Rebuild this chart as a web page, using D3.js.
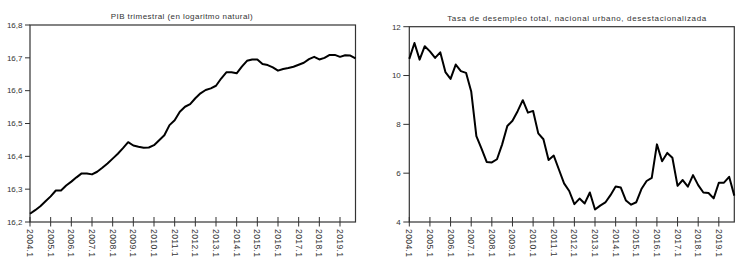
<!DOCTYPE html>
<html>
<head>
<meta charset="utf-8">
<script src="https://cdn.jsdelivr.net/npm/d3@7"></script>
<style>
  html, body { margin: 0; padding: 0; background: #fff; }
  svg { display: block; font-family: "Liberation Sans", Arial, sans-serif; }
</style>
</head>
<body>
<svg id="chart" width="751" height="272"></svg>
<script>
// quarters 2004.1 .. 2019.4
var quarters = [];
for (var yr = 2004; yr <= 2019; yr++) {
  for (var q = 1; q <= 4; q++) quarters.push(yr + "." + q);
}
var xTickLabels = ["2004.1", "2005.1", "2006.1", "2007.1", "2008.1", "2009.1", "2010.1", "2011.1",
  "2012.1", "2013.1", "2014.1", "2015.1", "2016.1", "2017.1", "2018.1", "2019.1"];

// PIB trimestral (log natural)
var pib = [16.225, 16.236, 16.248, 16.263, 16.278, 16.296, 16.296, 16.311, 16.323, 16.336,
  16.348, 16.348, 16.345, 16.353, 16.365, 16.378, 16.393, 16.408, 16.425, 16.443,
  16.433, 16.429, 16.426, 16.427, 16.434, 16.449, 16.464, 16.495, 16.510, 16.536,
  16.551, 16.559, 16.577, 16.592, 16.602, 16.607, 16.615, 16.637, 16.656, 16.656,
  16.653, 16.673, 16.691, 16.695, 16.695, 16.681, 16.678, 16.671, 16.661, 16.666,
  16.669, 16.673, 16.679, 16.685, 16.696, 16.703, 16.695, 16.700, 16.709, 16.709,
  16.703, 16.708, 16.707, 16.698];
var pibTicks = [16.2, 16.3, 16.4, 16.5, 16.6, 16.7, 16.8];

// tasa de desempleo desestacionalizada
var desempleo = [10.68, 11.33, 10.65, 11.20, 10.99, 10.72, 10.95, 10.14, 9.86, 10.45,
  10.18, 10.11, 9.35, 7.52, 7.01, 6.46, 6.44, 6.57, 7.18, 7.93,
  8.15, 8.54, 8.99, 8.48, 8.55, 7.63, 7.39, 6.54, 6.72, 6.15,
  5.58, 5.27, 4.73, 4.96, 4.76, 5.21, 4.51, 4.67, 4.80, 5.10,
  5.45, 5.41, 4.88, 4.71, 4.81, 5.35, 5.68, 5.81, 7.18, 6.49,
  6.83, 6.63, 5.48, 5.72, 5.45, 5.92, 5.51, 5.21, 5.19, 4.97,
  5.61, 5.61, 5.85, 5.08];
var desempleoTicks = [4, 6, 8, 10, 12];

var esLocale = d3.formatLocale({ decimal: ",", thousands: ".", grouping: [3], currency: ["", ""] });

var svg = d3.select("#chart");

function drawPanel(opt) {
  var g = svg.append("g");
  var x = d3.scalePoint().domain(quarters).range([opt.left, opt.right]);
  var y = d3.scaleLinear().domain(opt.domain).range([opt.bottom, opt.top]);

  // title
  g.append("text")
    .attr("x", opt.titleX)
    .attr("y", opt.titleY)
    .attr("text-anchor", "middle")
    .attr("font-size", 8)
    .attr("textLength", opt.titleLen)
    .attr("lengthAdjust", "spacing")
    .attr("fill", "#333")
    .text(opt.title);

  // frame
  g.append("rect")
    .attr("x", opt.left)
    .attr("y", opt.top)
    .attr("width", opt.right - opt.left)
    .attr("height", opt.bottom - opt.top)
    .attr("fill", "none")
    .attr("stroke", "#333")
    .attr("stroke-width", 1.2);

  // y ticks + labels
  var yt = g.selectAll(".yt").data(opt.yTicks).enter().append("g")
    .attr("transform", function (d) { return "translate(0," + y(d) + ")"; });
  yt.append("line")
    .attr("x1", opt.left - opt.tickLen).attr("x2", opt.left)
    .attr("stroke", "#333").attr("stroke-width", 1);
  yt.append("text")
    .attr("x", opt.left - opt.tickLen - 2.5)
    .attr("dy", "0.35em")
    .attr("text-anchor", "end")
    .attr("font-size", 8)
    .attr("fill", "#333")
    .text(opt.yFormat);

  // x ticks cross the axis
  var xt = g.selectAll(".xt").data(xTickLabels).enter().append("g")
    .attr("transform", function (d) { return "translate(" + x(d) + "," + opt.bottom + ")"; });
  xt.append("line")
    .attr("y1", -5).attr("y2", 4.5)
    .attr("stroke", "#333").attr("stroke-width", 1);
  xt.append("text")
    .attr("transform", "translate(0,7) rotate(90)")
    .attr("dy", "0.35em")
    .attr("font-size", 8.5)
    .attr("letter-spacing", 0.4)
    .attr("fill", "#333")
    .text(function (d) { return d; });

  // series line
  var line = d3.line()
    .x(function (d, i) { return x(quarters[i]); })
    .y(function (d) { return y(d); });
  g.append("path")
    .datum(opt.values)
    .attr("d", line)
    .attr("fill", "none")
    .attr("stroke", "#000")
    .attr("stroke-width", 2)
    .attr("stroke-linejoin", "round");
}

drawPanel({
  title: "PIB trimestral (en logaritmo natural)",
  titleX: 181.7, titleY: 18.5, titleLen: 142,
  left: 30, right: 355.5, top: 25, bottom: 222,
  domain: [16.2, 16.8], yTicks: pibTicks, tickLen: 5,
  yFormat: esLocale.format(".1f"),
  values: pib
});

drawPanel({
  title: "Tasa de desempleo total, nacional urbano, desestacionalizada",
  titleX: 576.7, titleY: 21, titleLen: 259,
  left: 409.3, right: 734.3, top: 26.7, bottom: 222,
  domain: [4, 12], yTicks: desempleoTicks, tickLen: 6,
  yFormat: esLocale.format("d"),
  values: desempleo
});
</script>
</body>
</html>
